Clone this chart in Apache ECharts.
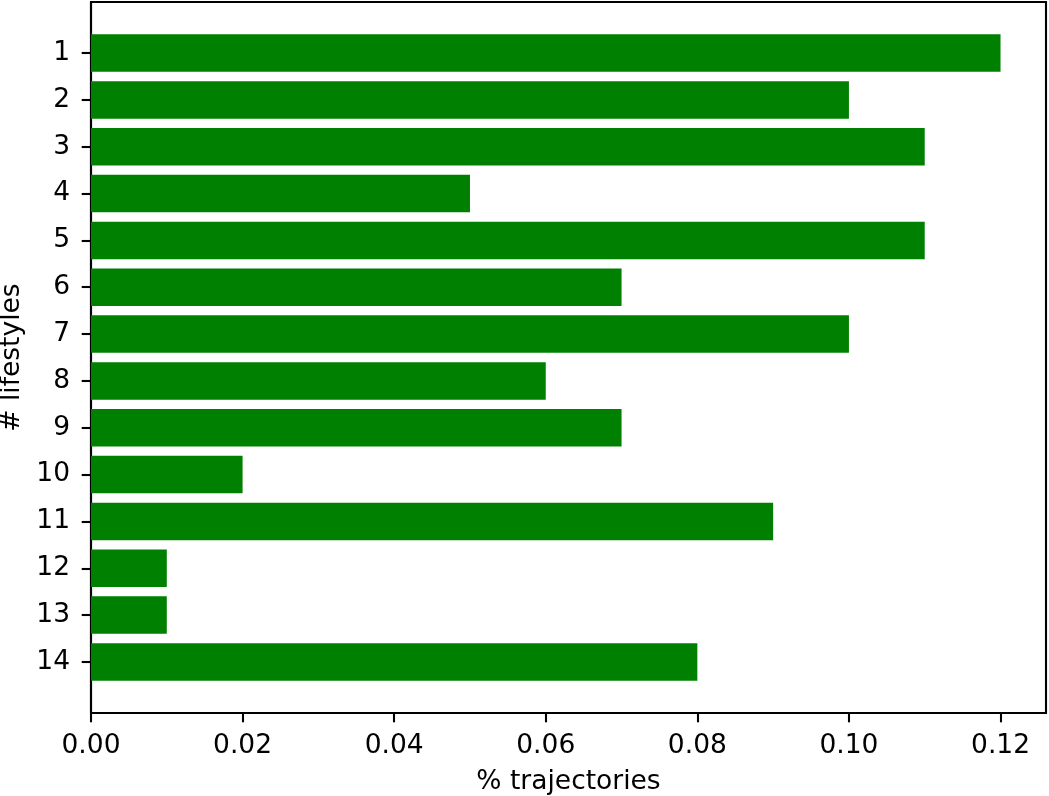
<!DOCTYPE html>
<html>
<head>
<meta charset="utf-8">
<script src="https://cdn.jsdelivr.net/npm/echarts@6/dist/echarts.min.js"></script>
<style>
html,body{margin:0;padding:0;background:#fff;}
#chart{width:1049px;height:796px;}
</style>
</head>
<body>
<div id="chart"></div>
<script>
var categories = [1, 2, 3, 4, 5, 6, 7, 8, 9, 10, 11, 12, 13, 14];
var values = [0.12, 0.10, 0.11, 0.05, 0.11, 0.07, 0.10, 0.06, 0.07, 0.02, 0.09, 0.01, 0.01, 0.08];
var xTicks = [0, 0.02, 0.04, 0.06, 0.08, 0.10, 0.12];

var FONT = 'DejaVu Sans';
var FS = 26.5;
var chart = echarts.init(document.getElementById('chart'), null, {renderer: 'canvas'});
var data = categories.map(function (c, i) { return [values[i], c]; });

chart.setOption({
  animation: false,
  backgroundColor: '#ffffff',
  grid: {
    left: 91, right: 3, top: 2, bottom: 83,
    outerBoundsMode: 'none',
    containLabel: false,
    show: true, borderColor: '#000', borderWidth: 2.1, backgroundColor: 'transparent'
  },
  xAxis: {
    type: 'value',
    min: 0, max: 0.126,
    name: '% trajectories',
    nameLocation: 'middle',
    nameGap: 55.5,
    nameTextStyle: {fontFamily: FONT, fontSize: FS, color: '#000'},
    axisLine: {show: true, onZero: false, lineStyle: {color: '#000', width: 2.1}},
    axisTick: {show: true, length: 9.3, lineStyle: {color: '#000', width: 2.1}, customValues: xTicks},
    axisLabel: {
      fontFamily: FONT, fontSize: FS, color: '#000', margin: 20,
      customValues: xTicks,
      formatter: function (v) { return v.toFixed(2); }
    },
    splitLine: {show: false}
  },
  yAxis: {
    type: 'value',
    inverse: true,
    min: -0.09, max: 15.09,
    name: '# lifestyles',
    nameLocation: 'middle',
    nameGap: 54,
    nameTextStyle: {fontFamily: FONT, fontSize: FS, color: '#000'},
    axisLine: {show: true, onZero: false, lineStyle: {color: '#000', width: 2.1}},
    axisTick: {show: true, length: 9.3, lineStyle: {color: '#000', width: 2.1}, customValues: categories},
    axisLabel: {
      fontFamily: FONT, fontSize: FS, color: '#000', margin: 21,
      customValues: categories,
      formatter: function (v) { return String(Math.round(v)); }
    },
    splitLine: {show: false}
  },
  series: [{
    type: 'custom',
    data: data,
    encode: {x: 0, y: 1},
    renderItem: function (params, api) {
      var v = api.value(0), c = api.value(1);
      var p0 = api.coord([0, c]);
      var p1 = api.coord([v, c]);
      var h = Math.abs(api.size([0, 0.8])[1]);
      return {
        type: 'rect',
        shape: {x: p0[0], y: p0[1] - h / 2, width: p1[0] - p0[0], height: h},
        style: {fill: '#008000'}
      };
    }
  }]
});
</script>
</body>
</html>
